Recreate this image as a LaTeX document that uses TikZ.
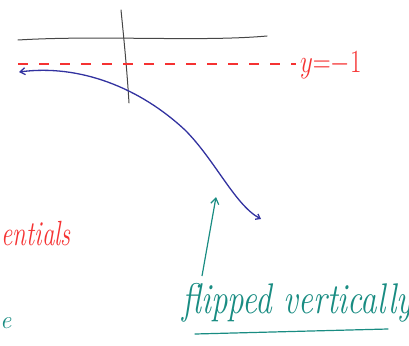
\documentclass[tikz,border=0pt]{standalone}
\usetikzlibrary{arrows.meta}
\definecolor{inkred}{RGB}{245,50,50}
\definecolor{inkblue}{RGB}{50,50,160}
\definecolor{inkteal}{RGB}{25,140,130}
\definecolor{inkgray}{RGB}{70,70,70}
\begin{document}
\begin{tikzpicture}[x=1pt,y=-1pt,
  axisline/.style={draw=inkgray,line width=1pt,line cap=round},
  reddash/.style={draw=inkred,line width=1.1pt,dash pattern=on 10pt off 11pt},
  bluecurve/.style={draw=inkblue,line width=1.3pt,line cap=round,{Straight Barb[length=5pt,width=7pt]}-{Straight Barb[length=4pt,width=6pt]}},
  tealarrow/.style={draw=inkteal,line width=1.2pt,-{Straight Barb[length=6pt,width=8pt]}},
  redtext/.style={text=inkred,inner sep=0pt,font=\fontsize{25}{30}\selectfont\itshape},
  tealtext/.style={text=inkteal,inner sep=0pt,font=\fontsize{33}{38}\selectfont\itshape}]
\useasboundingbox (0,0) rectangle (409,345);
\clip (0,0) rectangle (409,345);
% axes
\coordinate (hl) at (18,40);
\coordinate (hr) at (267,36);
\coordinate (vt) at (121,10);
\coordinate (vb) at (129,103);
\draw[axisline] (hl) .. controls (100,35) and (200,42) .. (hr);
\draw[axisline] (vt) .. controls (124,40) and (127,70) .. (vb);
% dashed line y=-1
\coordinate (dl) at (18,64);
\coordinate (dr) at (296,64);
\draw[reddash] (dl) -- (dr);
\node[redtext,anchor=base west,font=\fontsize{30}{34}\selectfont] (ylab) at (300,72) {\scalebox{1}[1.3]{$y{=}{-}1$}};
% blue curve
\coordinate (bl) at (19,72);
\coordinate (bm) at (185,130);
\coordinate (br) at (261,219);
\draw[bluecurve] (bl) .. controls (80,64) and (140,88) .. (bm) .. controls (215,160) and (235,205) .. (br);
% teal arrow and label
\node[tealtext,anchor=base west] (flip) at (182,313) {\scalebox{1}[1.3]{flipped vertically}};
\coordinate (ta) at (202,276);
\coordinate (tb) at (216,197);
\draw[tealarrow] (ta) -- (tb);
\coordinate (ul) at (195,334);
\coordinate (ur) at (388,329);
\draw[draw=inkteal,line width=1.2pt,line cap=round] (ul) -- (ur);
% cut-off texts at the left
\node[redtext,anchor=base east] (ent) at (71,245) {\scalebox{1}[1.4]{entials}};
\node[tealtext,anchor=base west,font=\fontsize{25}{30}\selectfont\itshape] (tle) at (0,328) {e};
\end{tikzpicture}
\end{document}
